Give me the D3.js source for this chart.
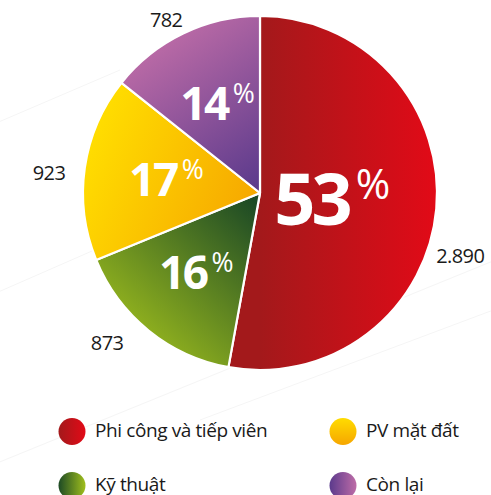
<!DOCTYPE html>
<html>
<head>
<meta charset="utf-8">
<script src="https://cdn.jsdelivr.net/npm/d3@7"></script>
<style>
	body { margin:0; background:#fff; }
	svg { display:block; font-family:'Open Sans', 'Noto Sans', sans-serif; }
</style>
</head>
<body>
<svg id="chart" width="491" height="495"></svg>
<script>
// data
var aCategories = ['Phi công và tiếp viên', 'Kỹ thuật', 'PV mặt đất', 'Còn lại'];
var aValues = [2890, 873, 923, 782];
var aValueLabels = ['2.890', '873', '923', '782'];
var aPercents = ['53', '16', '17', '14'];

var sSvg = d3.select('#chart');
var nCx = 260, nCy = 193, nRadius = 177;

// slice gradients, in pie coordinates (centre = 0,0)
var aGrad = [
	{ id:'g-red', x1:0, y1:0, x2:177, y2:0, c1:'#a3191b', c2:'#e20a17' },
	{ id:'g-green', x1:-140, y1:152, x2:-8, y2:7, c1:'#a0bf1d', c2:'#1d4a25' },
	{ id:'g-yellow', x1:-170, y1:-43, x2:-5, y2:27, c1:'#ffdc00', c2:'#f6a600' },
	{ id:'g-purple', x1:-110, y1:-153, x2:-5, y2:-3, c1:'#be6ca7', c2:'#5b3a8c' }
];
var aLegendGrad = [
	{ id:'l-red', x1:0, y1:0, x2:1, y2:0, c1:'#a3191b', c2:'#e20a17' },
	{ id:'l-green', x1:0, y1:0, x2:1, y2:0, c1:'#1d4a25', c2:'#a0bf1d' },
	{ id:'l-yellow', x1:0, y1:0, x2:0, y2:1, c1:'#ffdc00', c2:'#f6a600' },
	{ id:'l-purple', x1:0, y1:0, x2:1, y2:0, c1:'#5b3a8c', c2:'#be6ca7' }
];

var sDefs = sSvg.append('defs');
function AddGradient(g, bUser)
{
	var lg = sDefs.append('linearGradient').attr('id', g.id)
		.attr('x1', g.x1).attr('y1', g.y1).attr('x2', g.x2).attr('y2', g.y2);
	if (bUser)
		lg.attr('gradientUnits','userSpaceOnUse');
	lg.append('stop').attr('offset','0').attr('stop-color', g.c1);
	lg.append('stop').attr('offset','1').attr('stop-color', g.c2);
}
aGrad.forEach(function(g){ AddGradient(g, true); });
aLegendGrad.forEach(function(g){ AddGradient(g, false); });

// faint background streaks
[[-20,470,520,250],[-20,300,300,160],[200,420,520,300],[-20,130,120,70]].forEach(function(l)
{
	sSvg.append('line').attr('x1',l[0]).attr('y1',l[1]).attr('x2',l[2]).attr('y2',l[3])
		.style('stroke','#f5f5f5').style('stroke-width',1);
});

var pie = d3.pie().sort(null).value(function(d){ return d; });
var aArcs = pie(aValues);
var arc = d3.arc().innerRadius(0).outerRadius(nRadius);

var sPie = sSvg.append('g').attr('transform','translate('+nCx+','+nCy+')');

sPie.selectAll('path.slice')
	.data(aArcs)
	.enter()
		.append('path')
		.attr('class','slice')
		.attr('d', arc)
		.style('fill', function(d,i){ return 'url(#'+aGrad[i].id+')'; })
		.style('stroke','#fff')
		.style('stroke-width',2.2)
		.style('stroke-linejoin','round');

function Polar(a, r)
{
	return [nCx + Math.sin(a)*r, nCy - Math.cos(a)*r];
}

// percent labels inside
var aInnerR = [72, 102, 95, 99];
aArcs.forEach(function(d,i)
{
	var fMid = (d.startAngle + d.endAngle)/2;
	var p = Polar(fMid, aInnerR[i]);
	var bBig = d.value > 2000;
	var nSize = bBig ? 72 : 46;
	var t = sSvg.append('text')
		.attr('x', p[0]).attr('y', p[1] + nSize*0.36)
		.attr('text-anchor','middle')
		.style('fill','#fff');
	t.append('tspan')
		.style('font-weight','700')
		.style('font-size', nSize+'px')
		.style('letter-spacing', bBig ? '-4px' : '-2.5px')
		.text(aPercents[i]);
	t.append('tspan')
		.attr('dx', bBig ? 7 : 5)
		.attr('dy', -nSize*0.37)
		.style('font-weight','400')
		.style('font-size', (nSize*0.58)+'px')
		.style('letter-spacing','-1px')
		.text('%');
});

// value labels outside
var aOuterAng = [12.4, 6.6, -2.6, -2.7];
var aOuterR = [210, 214, 212, 197];
aArcs.forEach(function(d,i)
{
	var fAng = (d.startAngle + d.endAngle)/2 + aOuterAng[i]*Math.PI/180;
	var p = Polar(fAng, aOuterR[i]);
	sSvg.append('text')
		.attr('x', p[0]).attr('y', p[1] + 7)
		.attr('text-anchor','middle')
		.style('font-size','20px')
		.style('letter-spacing','-0.6px')
		.style('fill','#1a1a1a')
		.text(aValueLabels[i]);
});

// legend
var aLegendPos = [[72,431.5],[72,485.5],[343,431.5],[343,485.5]];
aCategories.forEach(function(c,i)
{
	var p = aLegendPos[i];
	sSvg.append('circle')
		.attr('cx', p[0]).attr('cy', p[1]).attr('r', 13.5)
		.style('fill', 'url(#'+aLegendGrad[i].id+')');
	sSvg.append('text')
		.attr('x', p[0]+23).attr('y', p[1]+5)
		.style('font-size','19px')
		.style('letter-spacing','-0.4px')
		.style('fill','#1a1a1a')
		.text(c);
});
</script>
</body>
</html>
